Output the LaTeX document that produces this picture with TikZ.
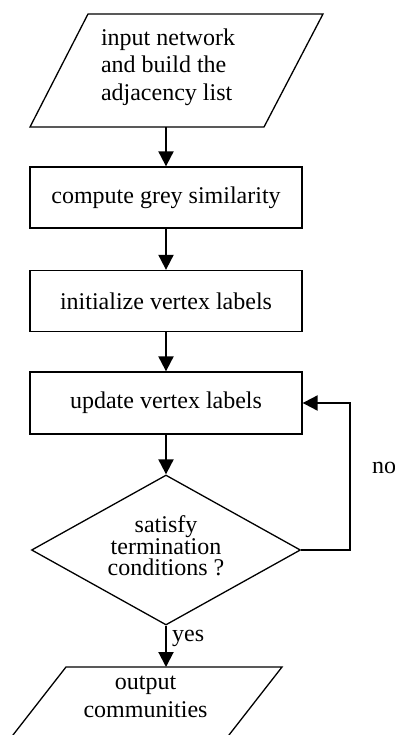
\documentclass[tikz,border=0pt]{standalone}
\usepackage{fontspec}
\setmainfont{Liberation Serif}
\usetikzlibrary{arrows.meta,calc,shapes.geometric}
\begin{document}
\begin{tikzpicture}[x=1pt,y=-1pt,
  shapeline/.style={draw,line width=1.3pt,line join=miter},
  conn/.style={line width=2pt,-{Triangle[width=15pt,length=15pt]}},
  plainconn/.style={line width=2pt},
  txt/.style={inner sep=0pt,font=\fontsize{24}{27.5}\selectfont},
  procbox/.style={shapeline,minimum width=272pt,minimum height=61pt,inner sep=0pt,font=\fontsize{24}{27.5}\selectfont},
  decbox/.style={shapeline,diamond,minimum width=269pt,minimum height=150pt,inner sep=0pt,shape aspect=1.79}]
\clip (0,0) rectangle (395,735);
\useasboundingbox (0,0) rectangle (395,735);

% input parallelogram
\draw[shapeline] (88,14) -- (323,14) -- (264,127) -- (30,127) -- cycle;
\node[txt,align=left] (inp) at (168,67) {input network\\and build the\\adjacency list};
\coordinate (inpb) at (166,127);

\node[procbox] (b1) at (166,197.5) {compute grey similarity};
\node[procbox] (b2) at (166,301) {initialize vertex labels};
\node[procbox,minimum height=62pt] (b3) at (166,403) {update vertex labels};

\node[decbox] (d) at (166,550) {};
\node[txt,align=center,font=\fontsize{24}{21.5}\selectfont] (dtext) at (166,546) {satisfy\\termination\\conditions ?};

% output parallelogram
\draw[shapeline] (66,667) -- (282,667) -- (209.5,760) -- (-6.5,760) -- cycle;
\coordinate (outt) at (166,667);
\node[txt,align=center,font=\fontsize{24}{28}\selectfont] (outtext) at (145.5,697) {output\\communities};

% connectors
\draw[conn] (inpb) -- (b1.north);
\draw[conn] (b1.south) -- (b2.north);
\draw[conn] (b2.south) -- (b3.north);
\draw[conn] (b3.south) -- (d.north);
\draw[conn] (d.south) -- (outt);
\draw[conn] (d.east) -- ++(49,0) |- (b3.east);

\node[txt,anchor=base west] (yes) at (172,641.5) {yes};
\node[txt,anchor=base west] (no) at (372,473) {no};
\end{tikzpicture}
\end{document}
